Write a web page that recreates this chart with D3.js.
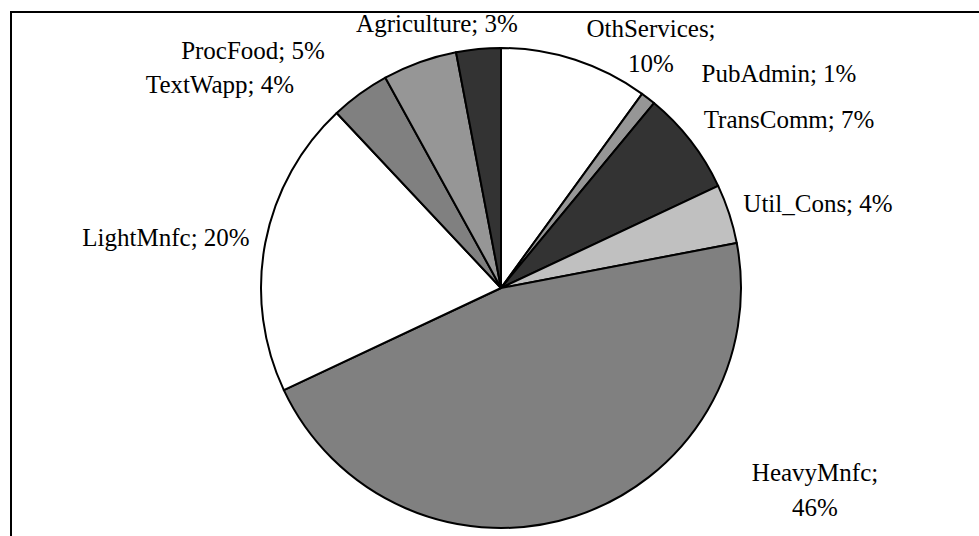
<!DOCTYPE html>
<html>
<head>
<meta charset="utf-8">
<script src="https://cdn.jsdelivr.net/npm/d3@7"></script>
<style>
  html, body { margin: 0; padding: 0; background: #fff; }
  svg { display: block; }
</style>
</head>
<body>
<div id="chart"></div>
<script>
// Data (clockwise from 12 o'clock)
const sectors = ["OthServices", "PubAdmin", "TransComm", "Util_Cons", "HeavyMnfc",
                 "LightMnfc", "TextWapp", "ProcFood", "Agriculture"];
const shares  = [10, 1, 7, 4, 46, 20, 4, 5, 3];
const fills   = ["#ffffff", "#969696", "#333333", "#c0c0c0", "#808080",
                 "#ffffff", "#808080", "#969696", "#333333"];

// Label placement (centre x, baseline y of first line), lines split where Excel wrapped
const labelPos = {
  OthServices: [651, 37],
  PubAdmin:    [779, 82],
  TransComm:   [789, 128],
  Util_Cons:   [818, 212],
  HeavyMnfc:   [815, 481],
  LightMnfc:   [166, 246],
  TextWapp:    [220, 93],
  ProcFood:    [253, 59],
  Agriculture: [437, 32]
};
const wrapped = new Set(["OthServices", "HeavyMnfc"]);

const width = 979, height = 536;
const cx = 501, cy = 288, radius = 240;
const lineGap = 35;
const serif = "'Liberation Serif', 'Times New Roman', Times, serif";

const svg = d3.select("#chart").append("svg")
  .attr("width", width)
  .attr("height", height);

// Frame (runs off the right and bottom edge)
svg.append("rect")
  .attr("x", 11).attr("y", 12)
  .attr("width", width + 20).attr("height", height + 20)
  .attr("fill", "none")
  .attr("stroke", "#000")
  .attr("stroke-width", 2);

// Pie
const data = sectors.map((s, i) => ({ name: s, value: shares[i], fill: fills[i] }));
const pie = d3.pie().value(d => d.value).sort(null);
const arc = d3.arc().innerRadius(0).outerRadius(radius);

const g = svg.append("g").attr("transform", `translate(${cx},${cy})`);
g.selectAll("path")
  .data(pie(data))
  .join("path")
    .attr("d", arc)
    .attr("fill", d => d.data.fill)
    .attr("stroke", "#000")
    .attr("stroke-width", 2)
    .attr("stroke-linejoin", "round");

// Labels
const fmt = d => `${d.value}%`;
data.forEach(d => {
  const [x, y] = labelPos[d.name];
  const t = svg.append("text")
    .style("font-family", serif)
    .style("font-size", "25px")
    .attr("fill", "#000")
    .attr("text-anchor", "middle")
    .attr("x", x)
    .attr("y", y);
  if (wrapped.has(d.name)) {
    t.append("tspan").attr("x", x).text(`${d.name};`);
    t.append("tspan").attr("x", x).attr("dy", lineGap).text(fmt(d));
  } else {
    t.text(`${d.name}; ${fmt(d)}`);
  }
});
</script>
</body>
</html>
